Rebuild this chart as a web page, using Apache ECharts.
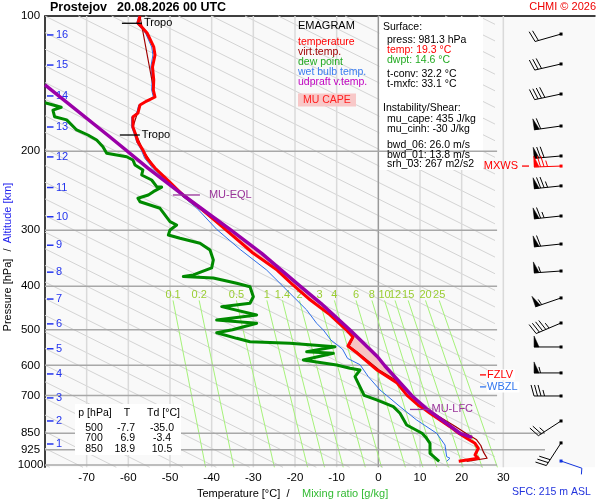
<!DOCTYPE html>
<html><head><meta charset="utf-8">
<script src="https://cdn.jsdelivr.net/npm/echarts@6.0.0/dist/echarts.min.js"></script>
<style>html,body{margin:0;padding:0;background:#fff}#c{width:600px;height:500px}</style>
</head><body><div id="c"></div>
<script>
const FONT = '"Liberation Sans", Arial, Helvetica, sans-serif';

// ---------------- sounding data ----------------
const tempP = [100,103.8,105.3,109.1,117.2,122.1,129.9,138.8,146.2,151.5,154.7,157.8,164.5,167.9,176.7,184.1,190.8,198.8,207.2,218.1,234.6,250.4,267.6,298.2,337.2,368,397.3,428.6,463.2,500,518.6,543.5,563.2,614.5,656.8,700,735.1,752.2,767.2,821.6,850,872,895,918,950,966,981.3];
const tempT = [-57.2,-57.7,-57.0,-55.5,-53.9,-53.6,-54.2,-53.9,-54.0,-53.6,-55.6,-57.2,-57.7,-58.9,-58.9,-58.2,-57.7,-56.5,-55.6,-53.6,-50.0,-46.9,-42.8,-36.8,-30.1,-24.3,-20.5,-16.4,-11.6,-7.7,-6.1,-7.3,-5.1,-0.3,4.5,6.9,9.5,11.2,12.4,17.2,19.3,21.2,23.2,24.0,23.2,24.0,19.3];

const virtP = [100,151.5,157.8,176.7,198.8,218.1,250.4,298.2,337.2,368,397.3,428.6,463.2,500,518.6,543.5,563.2,614.5,656.8,700,752.2,821.6,850,879,905,935,966,981.3];
const virtT = [-57.2,-53.6,-57.2,-58.9,-56.5,-53.6,-46.9,-36.7,-30.0,-24.2,-20.3,-16.2,-11.4,-7.5,-5.9,-7.0,-4.8,0.2,5.3,7.9,11.8,18.6,21.0,23.6,24.6,25.2,26.1,21.2];

const dewP = [156.0,159.7,162.0,167.6,170.4,179.4,184.1,188.9,195.5,202.2,205.8,209.3,214.7,220.3,226.0,231.9,240.0,240.5,246.2,250.4,254.7,259.2,268.1,287.1,292.1,299.7,307.4,312.7,320.8,332.0,349.4,364.0,377.3,380.3,383.2,393.9,400.8,421.9,436.4,444.0,463.4,475.5,483.6,500,507.5,522.3,531.4,535.8,545.3,559.4,564.1,583.5,598.8,609.0,614.5,635.8,700,716.3,741.5,767.2,814.6,850,870,894.8,941.7,981.3];
const dewT = [-80.0,-76.1,-78.1,-77.7,-74.8,-72.4,-69.7,-67.6,-66.1,-65.2,-60.4,-58.9,-58.4,-56.5,-56.8,-54.4,-53.2,-52.0,-54.0,-55.2,-57.7,-57.2,-52.4,-50.0,-48.4,-50.0,-50.4,-47.6,-42.8,-40.4,-39.6,-40.0,-44.4,-46.8,-39.6,-34.0,-30.8,-30.0,-30.8,-37.6,-29.2,-38.8,-29.2,-35.0,-38.8,-34.0,-30.8,-21.2,-10.4,-17.2,-10.8,-18.0,-10.0,-6.8,-4.4,-5.6,-3.4,-0.4,3.6,5.2,6.8,10.5,11.5,12.4,12.4,14.6];

const wbP = [100,103.8,109.1,117.2,122.1,129.9,138.8,146.2,151.5,157.8,164.5,167.9,176.7,184.1,190.8,198.8,207.2,218.1,234.6,250.4,267.6,298.7,332.0,368.0,400.8,451.6,483.6,500.5,526.8,552.0,578.8,598.0,635.8,680.8,700,741.5,794.1,850,902.7,958.3,966.2,981.3];
const wbT = [-57.5,-58.0,-55.9,-54.4,-54.1,-54.6,-54.3,-54.4,-54.0,-57.5,-58.0,-59.2,-59.2,-58.5,-58.0,-56.9,-56.1,-54.2,-50.6,-47.4,-43.6,-38.8,-33.0,-26.8,-22.8,-17.2,-14.8,-13.2,-11.4,-8.6,-7.4,-4.4,-2.4,0.4,2.0,5.2,9.2,14.0,16.0,16.4,17.2,16.4];

const parcelP = [142.4,186.0,218.1,250.4,298.7,337.7,398.0,436.4,500.5,574.0,601.9,702.1,752.2,850,868];
const parcelT = [-80.0,-64.4,-55.3,-46.9,-35.6,-28.0,-19.0,-13.8,-6.8,-0.2,1.6,8.1,11.8,19.6,22.5];

// wind barbs (direction deg, speed kt; kind 0 normal, 1 max wind, 2 surface)
const windP    = [109.7,127.9,149.2,175.8,205,215.9,239,278.9,322,369.8,424.6,482.8,546,623.7,702,798,893,980];
const windDir  = [254,257,258,262,265,268,264,264,264,266,251,247,270,270,270,237,213,109];
const windSpd  = [20,30,40,60,70,75,75,65,60,55,55,45,50,55,35,25,30,5];
const windKind = [0,0,0,0,0,1,0,0,0,0,0,0,0,0,0,0,0,2];

// altitude scale (km) and its pressure positions
const altKm = [1,2,3,4,5,6,7,8,9,10,11,12,13,14,15,16];
const altP  = [898,798,709,627,551,485,427,372,324,280,241,206,176.7,150.7,128.6,110.2];

// axes / reference lines
const pressLabels = [100,200,300,400,500,600,700,850,925,1000];
const pressLines  = [200,300,400,500,600,700,850,925,1000];
const isoT = [-70,-60,-50,-40,-30,-20,-10,0,10,20,30];
const mixLabels = ['0.1','0.2','0.5','1','1.4','2','3','4','6','8','10','12','15','20','25'];
const mixTopT = [-49.27,-43.00,-34.06,-26.75,-23.02,-18.93,-14.09,-10.54,-5.35,-1.54,1.49,4.01,7.16,11.32,14.61];
const mixBotT = [-41.46,-34.67,-24.95,-16.99,-12.91,-8.43,-3.13,0.78,6.49,10.69,14.04,16.83,20.32,24.92,28.58];

// levels
const tropoP = [103.8,184.1], tropoT = [-57.7,-58.2];
const eqlP = 250.4, eqlT = -46.9, lfcP = 752.2, lfcT = 11.8;
const fzlvP = 630, wbzlP = 670;

// table values
const tabP  = ['500','700','850'];
const tabT  = ['-7.7','6.9','18.9'];
const tabTd = ['-35.0','-3.4','10.5'];

// ---------------- layout constants ----------------
const TMIN = -80, TMAX = 52, PMIN = 100, PMAX = 1012;
const BARB_T = 43.85, LVL_T = 24.4;
const zip = (T, P) => T.map((t, i) => [t, P[i]]);

// gray diagonal reference lines
const DIAG_S = 216;
const diagSegs = [];
for (let t0 = -80; t0 <= 248; t0 += 8) {
  const lo = Math.max(-1, (-80 - t0) / DIAG_S);
  const hi = Math.min(Math.log10(PMAX / 1000), (28 - t0) / DIAG_S);
  if (hi - lo > 1e-4) diagSegs.push([t0 + DIAG_S * lo, 1000 * Math.pow(10, lo), t0 + DIAG_S * hi, 1000 * Math.pow(10, hi)]);
}

function segRender(styleFn) {
  return function (params, api) {
    const a = api.coord([api.value(0), api.value(1)]);
    const b = api.coord([api.value(2), api.value(3)]);
    return { type: 'line', shape: { x1: a[0], y1: a[1], x2: b[0], y2: b[1] }, style: styleFn(api) };
  };
}
function tstyle(text, x, y, fill, size, align, extra) {
  return Object.assign({ text, x, y, fill, font: size + 'px ' + FONT, align: align, textAlign: align, verticalAlign: 'middle', textVerticalAlign: 'middle' }, extra || {});
}

const series = [];
// diagonals
series.push({ type: 'custom', z: 1, silent: true, data: diagSegs, encode: { x: [0, 2], y: [1, 3] },
  renderItem: segRender(() => ({ stroke: '#d4d4d4', lineWidth: 1 })) });
// isotherms
series.push({ type: 'custom', z: 1, silent: true, data: isoT.map(t => [t, PMIN, t, PMAX]), encode: { x: [0, 2], y: [1, 3] },
  renderItem: segRender(api => api.value(0) === 0 ? { stroke: '#999', lineWidth: 1.5 } : { stroke: '#dadada', lineWidth: 1.5 }) });
// mixing ratio lines + labels
series.push({ type: 'custom', z: 1, silent: true, data: mixTopT.map((t, i) => [t, 430, mixBotT[i], PMAX, i]), encode: { x: [0, 2], y: [1, 3] },
  renderItem: function (params, api) {
    const a = api.coord([api.value(0), api.value(1)]);
    const b = api.coord([api.value(2), api.value(3)]);
    const l = api.coord([api.value(0), 418]);
    return { type: 'group', children: [
      { type: 'line', shape: { x1: a[0], y1: a[1], x2: b[0], y2: b[1] }, style: { stroke: '#a6f27a', lineWidth: 1 } },
      { type: 'text', style: tstyle(mixLabels[api.value(4)], l[0], l[1], '#9acd32', 11, 'center') }
    ] };
  } });
// horizontal pressure lines
series.push({ type: 'custom', z: 3, silent: true, data: pressLines.map(p => [TMIN, p, (p === 850 || p === 925) ? 40 : 28.5, p]), encode: { x: [0, 2], y: [1, 3] },
  renderItem: segRender(() => ({ stroke: '#a8a8a8', lineWidth: 1.5 })) });
// pressure labels
series.push({ type: 'custom', z: 3, silent: true, data: pressLabels.map(p => [TMIN, p]), encode: { x: 0, y: 1 },
  renderItem: function (params, api) {
    const c = api.coord([api.value(0), api.value(1)]);
    return { type: 'text', style: tstyle(String(api.value(1)), c[0] - 14.5, c[1], '#000', 11.5, 'center') };
  } });
// altitude ticks
series.push({ type: 'custom', z: 3, silent: true, data: altKm.map((k, i) => [TMIN, altP[i], k]), encode: { x: 0, y: 1 },
  renderItem: function (params, api) {
    const c = api.coord([api.value(0), api.value(1)]);
    return { type: 'group', children: [
      { type: 'line', shape: { x1: c[0] + 2, y1: c[1], x2: c[0] + 8.5, y2: c[1] }, style: { stroke: '#2233ee', lineWidth: 1.5 } },
      { type: 'text', style: tstyle(String(api.value(2)), c[0] + 11, c[1], '#2233ee', 11, 'left') }
    ] };
  } });
// CAPE shading
series.push({ type: 'custom', z: 4, silent: true, data: [[0, 500]], encode: { x: 0, y: 1 },
  renderItem: function (params, api) {
    const pts = [];
    for (let i = 0; i < parcelP.length; i++) if (parcelP[i] >= eqlP && parcelP[i] <= lfcP) pts.push(api.coord([parcelT[i], parcelP[i]]));
    for (let i = virtP.length - 1; i >= 0; i--) if (virtP[i] >= eqlP && virtP[i] <= lfcP) pts.push(api.coord([virtT[i], virtP[i]]));
    return { type: 'polygon', shape: { points: pts }, style: { fill: '#f7c4c4' } };
  } });
function lineSeries(T, P, color, width, z) {
  return { type: 'line', data: zip(T, P), symbol: 'none', z: z, silent: true, clip: true,
    lineStyle: { color: color, width: width, join: 'round' } };
}
series.push(lineSeries(dewT, dewP, '#008a00', 3, 5));
series.push(lineSeries(wbT, wbP, '#2f6fe8', 1, 6));
series.push(lineSeries(virtT, virtP, '#a00000', 1.2, 6));
series.push(lineSeries(tempT, tempP, '#ff0000', 3, 7));
series.push(lineSeries(parcelT, parcelP, '#9a00a8', 3.5, 8));

// level annotations
const annData = [
  [tropoT[0], tropoP[0], 0], [tropoT[1], tropoP[1], 0],
  [eqlT, eqlP, 1], [lfcT, lfcP, 2], [LVL_T, fzlvP, 3], [LVL_T, wbzlP, 4]
];
series.push({ type: 'custom', z: 9, silent: true, data: annData, encode: { x: 0, y: 1 },
  renderItem: function (params, api) {
    const c = api.coord([api.value(0), api.value(1)]);
    const k = api.value(2);
    const ln = (x1, x2, col) => ({ type: 'line', shape: { x1: c[0] + x1, y1: c[1], x2: c[0] + x2, y2: c[1] }, style: { stroke: col, lineWidth: 1.3 } });
    if (k === 0) return { type: 'group', children: [ln(-16, 4, '#000'), { type: 'text', style: tstyle('Tropo', c[0] + 6, c[1], '#000', 11, 'left') }] };
    if (k === 1) return { type: 'group', children: [ln(-10, 17, '#993399'), { type: 'text', style: tstyle('MU-EQL', c[0] + 26, c[1], '#993399', 11, 'left') }] };
    if (k === 2) return { type: 'group', children: [ln(-17.5, 3, '#993399'), { type: 'text', style: tstyle('MU-LFC', c[0] + 4, c[1], '#993399', 11, 'left') }] };
    const col = k === 3 ? '#ff0000' : '#3377ee';
    return { type: 'group', children: [
      { type: 'text', style: tstyle(k === 3 ? 'FZLV' : 'WBZL', c[0] + 7, c[1], col, 11, 'left', { backgroundColor: '#fff', padding: [0, 2, 0, 0] }) },
      ln(0, 6, col)
    ] };
  } });

// wind barbs
series.push({ type: 'custom', z: 9, silent: true,
  data: windP.map((p, i) => [BARB_T, p, windDir[i], windSpd[i], windKind[i]]), encode: { x: 0, y: 1 },
  renderItem: function (params, api) {
    const c = api.coord([api.value(0), api.value(1)]);
    const dir = api.value(2) * Math.PI / 180, spd = api.value(3), kind = api.value(4);
    const col = kind === 1 ? '#ff0000' : (kind === 2 ? '#1133dd' : '#000');
    const L = kind === 2 ? 22 : 27;
    const dx = Math.sin(dir), dy = -Math.cos(dir);
    const px = -dy, py = dx;
    const ex = c[0] + dx * L, ey = c[1] + dy * L;
    const ch = [];
    ch.push({ type: 'line', shape: { x1: c[0], y1: c[1], x2: ex, y2: ey }, style: { stroke: col, lineWidth: 1 } });
    ch.push({ type: 'rect', shape: { x: c[0] - 1.5, y: c[1] - 1.5, width: 3, height: 3 }, style: { fill: col } });
    let s = Math.round(spd / 5) * 5;
    const pen = Math.floor(s / 50); s -= pen * 50;
    const full = Math.floor(s / 10); s -= full * 10;
    const half = s >= 5;
    const BL = 11, STEP = 3.5;
    let pos = 0;
    for (let i = 0; i < pen; i++) {
      const bx = ex - dx * pos, by = ey - dy * pos;
      ch.push({ type: 'polygon', shape: { points: [[bx, by], [bx + px * BL, by + py * BL], [bx - dx * 5, by - dy * 5]] }, style: { fill: col, stroke: col, lineWidth: 0.5 } });
      pos += 6.5;
    }
    for (let i = 0; i < full; i++) {
      const bx = ex - dx * pos, by = ey - dy * pos;
      ch.push({ type: 'line', shape: { x1: bx, y1: by, x2: bx + px * BL + dx * 3, y2: by + py * BL + dy * 3 }, style: { stroke: col, lineWidth: 1 } });
      pos += STEP;
    }
    if (half) {
      const bx = ex - dx * pos, by = ey - dy * pos;
      ch.push({ type: 'line', shape: { x1: bx, y1: by, x2: bx + px * 6 + dx * 1.6, y2: by + py * 6 + dy * 1.6 }, style: { stroke: col, lineWidth: 1 } });
    }
    if (kind === 1) {
      ch.push({ type: 'line', shape: { x1: c[0] - 39, y1: c[1], x2: c[0] - 32, y2: c[1] }, style: { stroke: col, lineWidth: 1.3 } });
      ch.push({ type: 'text', style: tstyle('MXWS', c[0] - 43, c[1], col, 11, 'right') });
    }
    return { type: 'group', children: ch };
  } });

// ---------------- texts and boxes ----------------
function gtxt(x, y, text, fill, size, opt) {
  opt = opt || {};
  const al = opt.align || 'left';
  return { type: 'text', x: x, y: y, rotation: opt.rot || 0, z: opt.z || 20, silent: true,
    style: { x: 0, y: 0, text: text, fill: fill, font: (opt.weight || 'normal') + ' ' + size + 'px ' + FONT,
      align: al, textAlign: al, verticalAlign: 'middle', textVerticalAlign: 'middle' } };
}
const graphic = [
  { type: 'rect', z: 2, silent: true, shape: { x: 379.5, y: 17, width: 103.5, height: 153 }, style: { fill: '#fff' } },
  { type: 'rect', z: 4, silent: true, shape: { x: 75, y: 404, width: 106, height: 51 }, style: { fill: '#fff' } },
  { type: 'rect', z: 19, silent: true, shape: { x: 298, y: 93.5, width: 58, height: 13 }, style: { fill: '#f8c8c8' } },
  gtxt(50, 8, 'Prostejov', '#000', 12.5, { weight: 'bold' }),
  gtxt(117, 8, '20.08.2026 00 UTC', '#000', 12.5, { weight: 'bold' }),
  gtxt(596, 7, 'CHMI © 2026', '#ee0000', 11, { align: 'right' }),
  gtxt(298, 26, 'EMAGRAM', '#000', 11),
  gtxt(298, 42, 'temperature', '#ff0000', 10.5),
  gtxt(298, 52, 'virt.temp.', '#a00000', 10.5),
  gtxt(298, 62, 'dew point', '#22aa22', 10.5),
  gtxt(298, 72, 'wet bulb temp.', '#3a7cf0', 10.5),
  gtxt(298, 82, 'udpraft v.temp.', '#c000c0', 10.5),
  gtxt(303, 100.5, 'MU CAPE', '#ff2020', 10.5),
  gtxt(383, 27.5, 'Surface:', '#000', 10.5),
  gtxt(387, 40, 'press: 981.3 hPa', '#000', 10.5),
  gtxt(387, 50, 'temp: 19.3 °C', '#ff0000', 10.5),
  gtxt(387, 60, 'dwpt: 14.6 °C', '#22aa22', 10.5),
  gtxt(387, 74, 't-conv: 32.2 °C', '#000', 10.5),
  gtxt(387, 84, 't-mxfc: 33.1 °C', '#000', 10.5),
  gtxt(383, 108, 'Instability/Shear:', '#000', 10.5),
  gtxt(387, 119.5, 'mu_cape: 435 J/kg', '#000', 10.5),
  gtxt(387, 129.5, 'mu_cinh: -30 J/kg', '#000', 10.5),
  gtxt(387, 145, 'bwd_06: 26.0 m/s', '#000', 10.5),
  gtxt(387, 155, 'bwd_01: 13.8 m/s', '#000', 10.5),
  gtxt(387, 164.5, 'srh_03: 267 m2/s2', '#000', 10.5),
  gtxt(95, 413, 'p [hPa]', '#000', 10.5, { align: 'center' }),
  gtxt(127, 413, 'T', '#000', 10.5, { align: 'center' }),
  gtxt(163.5, 413, 'Td [°C]', '#000', 10.5, { align: 'center' }),
  gtxt(197, 493.5, 'Temperature [°C]  /', '#000', 11),
  gtxt(302, 493.5, 'Mixing ratio [g/kg]', '#33bb33', 11),
  gtxt(512, 492, 'SFC: 215 m ASL', '#2233dd', 10.5),
  gtxt(8, 295, 'Pressure [hPa]', '#000', 11, { align: 'center', rot: Math.PI / 2 }),
  gtxt(8, 250, '/', '#000', 11, { align: 'center', rot: Math.PI / 2 }),
  gtxt(8, 213, 'Altitude [km]', '#2222ee', 11, { align: 'center', rot: Math.PI / 2 })
];
const rowY = [428, 438.5, 449];
tabP.forEach((v, i) => {
  graphic.push(gtxt(94, rowY[i], v, '#000', 10.5, { align: 'center' }));
  graphic.push(gtxt(135, rowY[i], tabT[i], '#000', 10.5, { align: 'right' }));
  graphic.push(gtxt(162, rowY[i], tabTd[i], '#000', 10.5, { align: 'center' }));
});

const chart = echarts.init(document.getElementById('c'), null, { renderer: 'canvas', width: 600, height: 500 });
chart.setOption({
  animation: false,
  backgroundColor: '#fff',
  grid: { left: 45, right: 5, top: 16, bottom: 32.7, show: true, backgroundColor: '#f9f9f9', borderWidth: 0, outerBoundsMode: 'none', containLabel: false },
  xAxis: [
    { type: 'value', min: TMIN, max: TMAX, interval: 10,
      axisLine: { show: false, onZero: false }, axisTick: { show: false }, splitLine: { show: false },
      axisLabel: { margin: 5, color: '#000', fontSize: 11.5, fontFamily: FONT, formatter: v => (v >= -70 && v <= 30) ? String(v) : '' } },
    { type: 'value', position: 'top', min: TMIN, max: TMAX, interval: 10,
      axisLine: { show: true, onZero: false, lineStyle: { color: '#000', width: 1.5 } }, axisTick: { show: false }, axisLabel: { show: false }, splitLine: { show: false } }
  ],
  yAxis: { type: 'log', logBase: 10, min: PMIN, max: PMAX, inverse: true,
    axisLine: { show: true, onZero: false, lineStyle: { color: '#000', width: 1.5 } },
    axisTick: { show: false }, axisLabel: { show: false }, splitLine: { show: false }, minorSplitLine: { show: false } },
  series: series,
  graphic: graphic
});
</script></body></html>
